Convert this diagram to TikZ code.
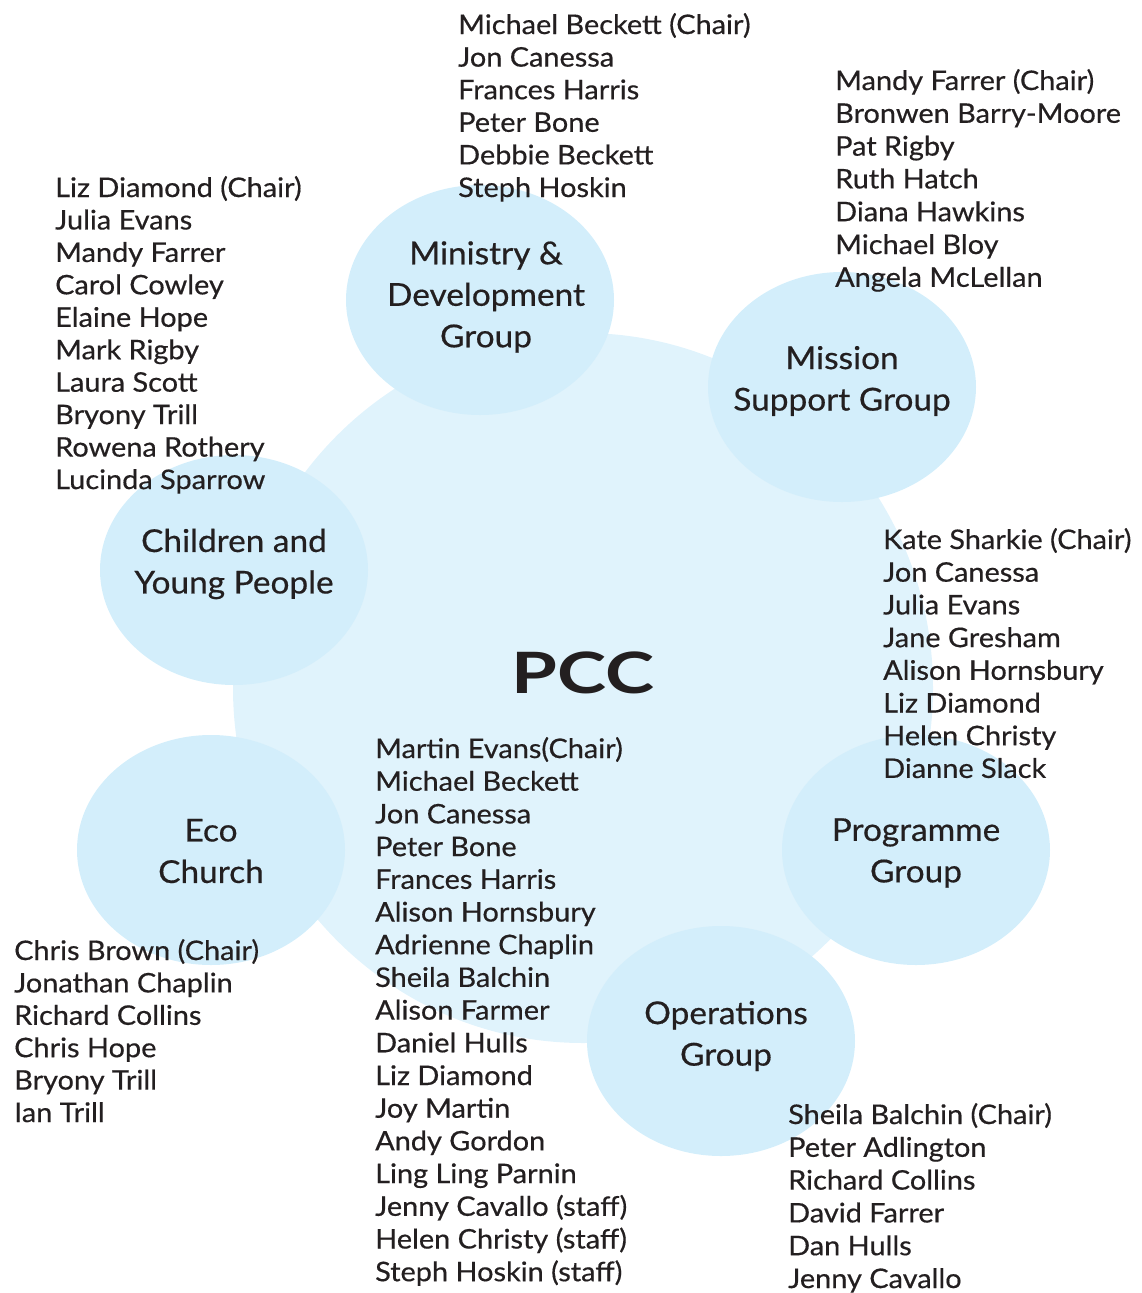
\documentclass[tikz,border=0pt]{standalone}
\usepackage{fontspec}
\setmainfont{Lato}
\newfontfamily\itemfont{Lato}[FakeBold=0.5,FakeStretch=1.07]
\newfontfamily\lblfont{Lato}[FakeBold=0.5,FakeStretch=1.06]
\newfontfamily\pccfont{Lato}[FakeStretch=1.3]
\usetikzlibrary{shapes.geometric}
\definecolor{txt}{HTML}{231F20}
\definecolor{smallc}{HTML}{D3EEFB}
\definecolor{bigc}{HTML}{E0F3FC}
\tikzset{
  grp/.style={ellipse, fill=smallc, draw=none, minimum width=268pt, minimum height=230pt, inner sep=0pt},
  lbl/.style={text=txt, align=center, font=\lblfont\fontsize{31.5}{41.5}\selectfont, inner sep=0pt},
  item/.style={text=txt, anchor=base west, font=\itemfont\fontsize{27}{30}\selectfont, inner sep=0pt},
}
\begin{document}
\begin{tikzpicture}[x=1pt,y=-1pt]
\useasboundingbox (0,0) rectangle (1142,1293);
\node[ellipse, fill=bigc, minimum width=700pt, minimum height=710pt, inner sep=0pt] (pccc) at (583,688) {};
\node[grp] (minc) at (480,300) {};
\node[grp] (misc) at (842,387) {};
\node[grp] (chic) at (234,570) {};
\node[grp] (ecoc) at (211,850) {};
\node[grp] (proc) at (916,850) {};
\node[grp] (opsc) at (721,1041) {};
\node[text=txt, font=\pccfont\fontsize{57}{60}\selectfont\bfseries, inner sep=0pt] (pcc) at (583,673) {PCC};
\node[lbl] (minl) at (486,297) {Ministry \&\\Development\\Group};
\node[lbl] (misl) at (842,381) {Mission\\Support Group};
\node[lbl] (chil) at (234,564) {Children and\\Young People};
\node[lbl] (ecol) at (211,851) {Eco\\Church};
\node[lbl] (prol) at (916,853) {Programme\\Group};
\node[lbl] (opsl) at (726,1036) {Operations\\Group};
\foreach \t [count=\i from 0] in {Michael Beckett (Chair),Jon Canessa,Frances Harris,Peter Bone,Debbie Beckett,Steph Hoskin}
  \node[item] (lmin-\i) at (458,34+\i*32.6) {\t};
\foreach \t [count=\i from 0] in {Mandy Farrer (Chair),Bronwen Barry-Moore,Pat Rigby,Ruth Hatch,Diana Hawkins,Michael Bloy,Angela McLellan}
  \node[item] (lmis-\i) at (835,90+\i*32.8) {\t};
\foreach \t [count=\i from 0] in {Liz Diamond (Chair),Julia Evans,Mandy Farrer,Carol Cowley,Elaine Hope,Mark Rigby,Laura Scott,Bryony Trill,Rowena Rothery,Lucinda Sparrow}
  \node[item] (lchi-\i) at (55,197+\i*32.45) {\t};
\foreach \t [count=\i from 0] in {Kate Sharkie (Chair),Jon Canessa,Julia Evans,Jane Gresham,Alison Hornsbury,Liz Diamond,Helen Christy,Dianne Slack}
  \node[item] (lpro-\i) at (883,549+\i*32.7) {\t};
\foreach \t [count=\i from 0] in {Martin Evans(Chair),Michael Beckett,Jon Canessa,Peter Bone,Frances Harris,Alison Hornsbury,Adrienne Chaplin,Sheila Balchin,Alison Farmer,Daniel Hulls,Liz Diamond,Joy Martin,Andy Gordon,Ling Ling Parnin,Jenny Cavallo (staff),Helen Christy (staff),Steph Hoskin (staff)}
  \node[item] (lpcc-\i) at (375,758+\i*32.7) {\t};
\foreach \t [count=\i from 0] in {Chris Brown (Chair),Jonathan Chaplin,Richard Collins,Chris Hope,Bryony Trill,Ian Trill}
  \node[item] (leco-\i) at (14,960+\i*32.4) {\t};
\foreach \t [count=\i from 0] in {Sheila Balchin (Chair),Peter Adlington,Richard Collins,David Farrer,Dan Hulls,Jenny Cavallo}
  \node[item] (lops-\i) at (788,1124+\i*32.8) {\t};
\end{tikzpicture}
\end{document}
